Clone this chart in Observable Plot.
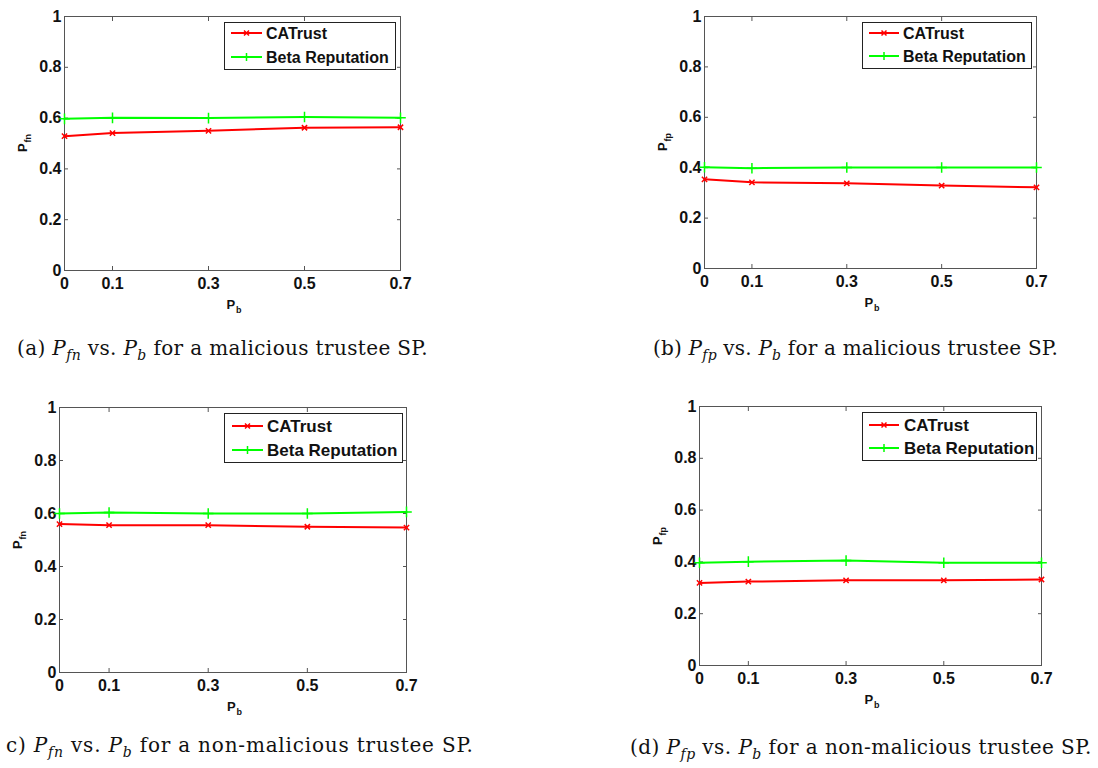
<!DOCTYPE html>
<html><head><meta charset="utf-8">
<script src="https://cdn.jsdelivr.net/npm/d3@7"></script>
<script src="https://cdn.jsdelivr.net/npm/@observablehq/plot@0.6"></script>
<style>
html,body{margin:0;padding:0;background:#fff}
body{width:1098px;height:768px;overflow:hidden;position:relative;font-family:"Liberation Sans",Arial,sans-serif}
.panel{position:absolute}
.legend{position:absolute;border:1px solid #222;background:#fff;box-sizing:border-box}
.lab{position:absolute;font:bold 13px "Liberation Sans",Arial,sans-serif;color:#111;white-space:nowrap;transform:translate(-50%,-50%)}
.lab.rot{transform:translate(-50%,-50%) rotate(-90deg)}
.lab .s{font-size:9px;position:relative;top:4px;margin-left:1px}
.cap{position:absolute;font-family:"DejaVu Serif",serif;font-size:20px;line-height:22px;white-space:nowrap;color:#111}
.cap .s{font-size:14px;position:relative;top:5px}
</style></head><body>
<script>
// ---------------- data ----------------
const pb = [0, 0.1, 0.3, 0.5, 0.7];
const yTicks = [0, 0.2, 0.4, 0.6, 0.8, 1];
const seriesNames = ["CATrust", "Beta Reputation"];

const catrustA = [0.529, 0.541, 0.550, 0.562, 0.564];
const betaA    = [0.597, 0.601, 0.600, 0.604, 0.601];
const catrustB = [0.354, 0.342, 0.338, 0.329, 0.322];
const betaB    = [0.402, 0.398, 0.401, 0.401, 0.401];
const catrustC = [0.560, 0.556, 0.556, 0.550, 0.547];
const betaC    = [0.600, 0.604, 0.600, 0.600, 0.606];
const catrustD = [0.319, 0.324, 0.329, 0.329, 0.332];
const betaD    = [0.397, 0.401, 0.405, 0.397, 0.397];

const yLabels = ["fn", "fp", "fn", "fp"];
const captions = [
  ["(a) ", "fn", " for a malicious trustee SP."],
  ["(b) ", "fp", " for a malicious trustee SP."],
  ["c) ", "fn", " for a non-malicious trustee SP."],
  ["(d) ", "fp", " for a non-malicious trustee SP."]
];

// ---------------- layout ----------------
const panels = [
  {cat: catrustA, beta: betaA, left: 0,   top: 0,   width: 420, height: 310, ml: 64, mr: 20, mt: 16, mb: 40,
   leg: {x: 224, y: 22, w: 172, h: 48, r1: 11, r2: 35, l0: 6, l1: 37, tx: 41, fs: 16},
   cap: {x: 17, y: 337, w: 411}},
  {cat: catrustB, beta: betaB, left: 600, top: 0,   width: 480, height: 310, ml: 104, mr: 44, mt: 16, mb: 42,
   leg: {x: 862, y: 22, w: 170, h: 47, r1: 11, r2: 34, l0: 6, l1: 36, tx: 40, fs: 16},
   cap: {x: 653, y: 337, w: 405}},
  {cat: catrustC, beta: betaC, left: 0,   top: 390, width: 430, height: 330, ml: 59, mr: 24, mt: 17, mb: 48,
   leg: {x: 224, y: 413, w: 179, h: 50, r1: 13, r2: 37, l0: 7, l1: 38, tx: 42, fs: 17},
   cap: {x: 6, y: 734, w: 468}},
  {cat: catrustD, beta: betaD, left: 600, top: 390, width: 470, height: 320, ml: 99, mr: 29, mt: 16, mb: 45,
   leg: {x: 862, y: 412, w: 175, h: 49, r1: 13, r2: 36, l0: 6, l1: 36, tx: 41, fs: 17},
   cap: {x: 630, y: 736, w: 462}}
];

const RED = "#ff0000", GREEN = "#00ff00", FRAME = "#555";
const fmt = d => String(d);

panels.forEach((p, i) => {
  const rows = [];
  pb.forEach((x, k) => rows.push({x, y: p.cat[k], s: seriesNames[0]}));
  pb.forEach((x, k) => rows.push({x, y: p.beta[k], s: seriesNames[1]}));
  const cat = rows.filter(d => d.s === seriesNames[0]);
  const beta = rows.filter(d => d.s === seriesNames[1]);

  const chart = Plot.plot({
    width: p.width, height: p.height,
    marginLeft: p.ml, marginRight: p.mr, marginTop: p.mt, marginBottom: p.mb,
    x: {domain: [0, 0.7]},
    y: {domain: [0, 1]},
    style: {fontFamily: '"Liberation Sans", Arial, sans-serif', fontSize: "16px", fontWeight: "bold", color: "#111", background: "transparent", overflow: "visible"},
    marks: [
      Plot.axisX({ticks: pb, anchor: "bottom", tickSize: 0, tickPadding: 7, tickFormat: fmt, label: null}),
      Plot.axisY({ticks: yTicks, anchor: "left", tickSize: 0, tickPadding: 3, tickFormat: fmt, label: null}),
      Plot.axisX({ticks: pb, anchor: "bottom", tickSize: 4, dy: -4, text: null, label: null, stroke: FRAME}),
      Plot.axisX({ticks: pb, anchor: "top", tickSize: 4, dy: 4, text: null, label: null, stroke: FRAME}),
      Plot.axisY({ticks: yTicks, anchor: "left", tickSize: 4, dx: 4, text: null, label: null, stroke: FRAME}),
      Plot.axisY({ticks: yTicks, anchor: "right", tickSize: 4, dx: -4, text: null, label: null, stroke: FRAME}),
      Plot.frame({stroke: FRAME, strokeWidth: 1}),
      Plot.line(beta, {x: "x", y: "y", stroke: GREEN, strokeWidth: 2}),
      Plot.dot(beta, {x: "x", y: "y", symbol: "plus", r: 3.5, stroke: GREEN, strokeWidth: 1.5}),
      Plot.line(cat, {x: "x", y: "y", stroke: RED, strokeWidth: 2}),
      Plot.dot(cat, {x: "x", y: "y", symbol: "times", r: 2.5, stroke: RED, strokeWidth: 1.5})
    ]
  });
  const wrap = document.createElement("div");
  wrap.className = "panel";
  wrap.style.left = p.left + "px";
  wrap.style.top = p.top + "px";
  wrap.appendChild(chart);
  document.body.appendChild(wrap);

  const fx0 = p.left + p.ml, fx1 = p.left + p.width - p.mr;
  const fy0 = p.top + p.mt, fy1 = p.top + p.height - p.mb;

  const yl = document.createElement("div");
  yl.className = "lab rot";
  yl.innerHTML = `P<span class="s">${yLabels[i]}</span>`;
  yl.style.left = (fx0 - 42) + "px";
  yl.style.top = ((fy0 + fy1) / 2) + "px";
  document.body.appendChild(yl);

  const xl = document.createElement("div");
  xl.className = "lab";
  xl.innerHTML = `P<span class="s">b</span>`;
  xl.style.left = ((fx0 + fx1) / 2 + 2) + "px";
  xl.style.top = (fy1 + 34) + "px";
  document.body.appendChild(xl);

  const L = p.leg;
  const leg = document.createElement("div");
  leg.className = "legend";
  leg.style.left = L.x + "px"; leg.style.top = L.y + "px";
  leg.style.width = L.w + "px"; leg.style.height = L.h + "px";
  const svg = d3.create("svg").attr("width", L.w - 2).attr("height", L.h - 2).style("display", "block")
    .style("font-family", '"Liberation Sans", Arial, sans-serif').style("font-weight", "bold").style("font-size", L.fs + "px");
  [[seriesNames[0], RED, L.r1, "x"], [seriesNames[1], GREEN, L.r2, "+"]].forEach(([name, col, ry, m]) => {
    const yy = ry - 1;
    svg.append("line").attr("x1", L.l0).attr("x2", L.l1).attr("y1", yy).attr("y2", yy).attr("stroke", col).attr("stroke-width", 2);
    const cx = (L.l0 + L.l1) / 2;
    if (m === "x") {
      svg.append("path").attr("d", `M${cx-2.5},${yy-2.5}L${cx+2.5},${yy+2.5}M${cx-2.5},${yy+2.5}L${cx+2.5},${yy-2.5}`).attr("stroke", col).attr("stroke-width", 1.5);
    } else {
      svg.append("path").attr("d", `M${cx-4},${yy}L${cx+4},${yy}M${cx},${yy-4}L${cx},${yy+4}`).attr("stroke", col).attr("stroke-width", 1.5);
    }
    svg.append("text").attr("x", L.tx).attr("y", yy).attr("dy", "0.36em").attr("fill", "#111").text(name);
  });
  leg.appendChild(svg.node());
  document.body.appendChild(leg);

  const c = captions[i];
  const cap = document.createElement("div");
  cap.className = "cap";
  cap.style.left = p.cap.x + "px"; cap.style.top = p.cap.y + "px";
  cap.innerHTML = `${c[0]}<i>P</i><i class="s">${c[1]}</i> vs. <i>P</i><i class="s">b</i>${c[2]}`;
  document.body.appendChild(cap);
  const w = cap.getBoundingClientRect().width;
  const n = cap.textContent.length;
  cap.style.letterSpacing = ((p.cap.w - w) / n).toFixed(2) + "px";
});
</script>
</body></html>
